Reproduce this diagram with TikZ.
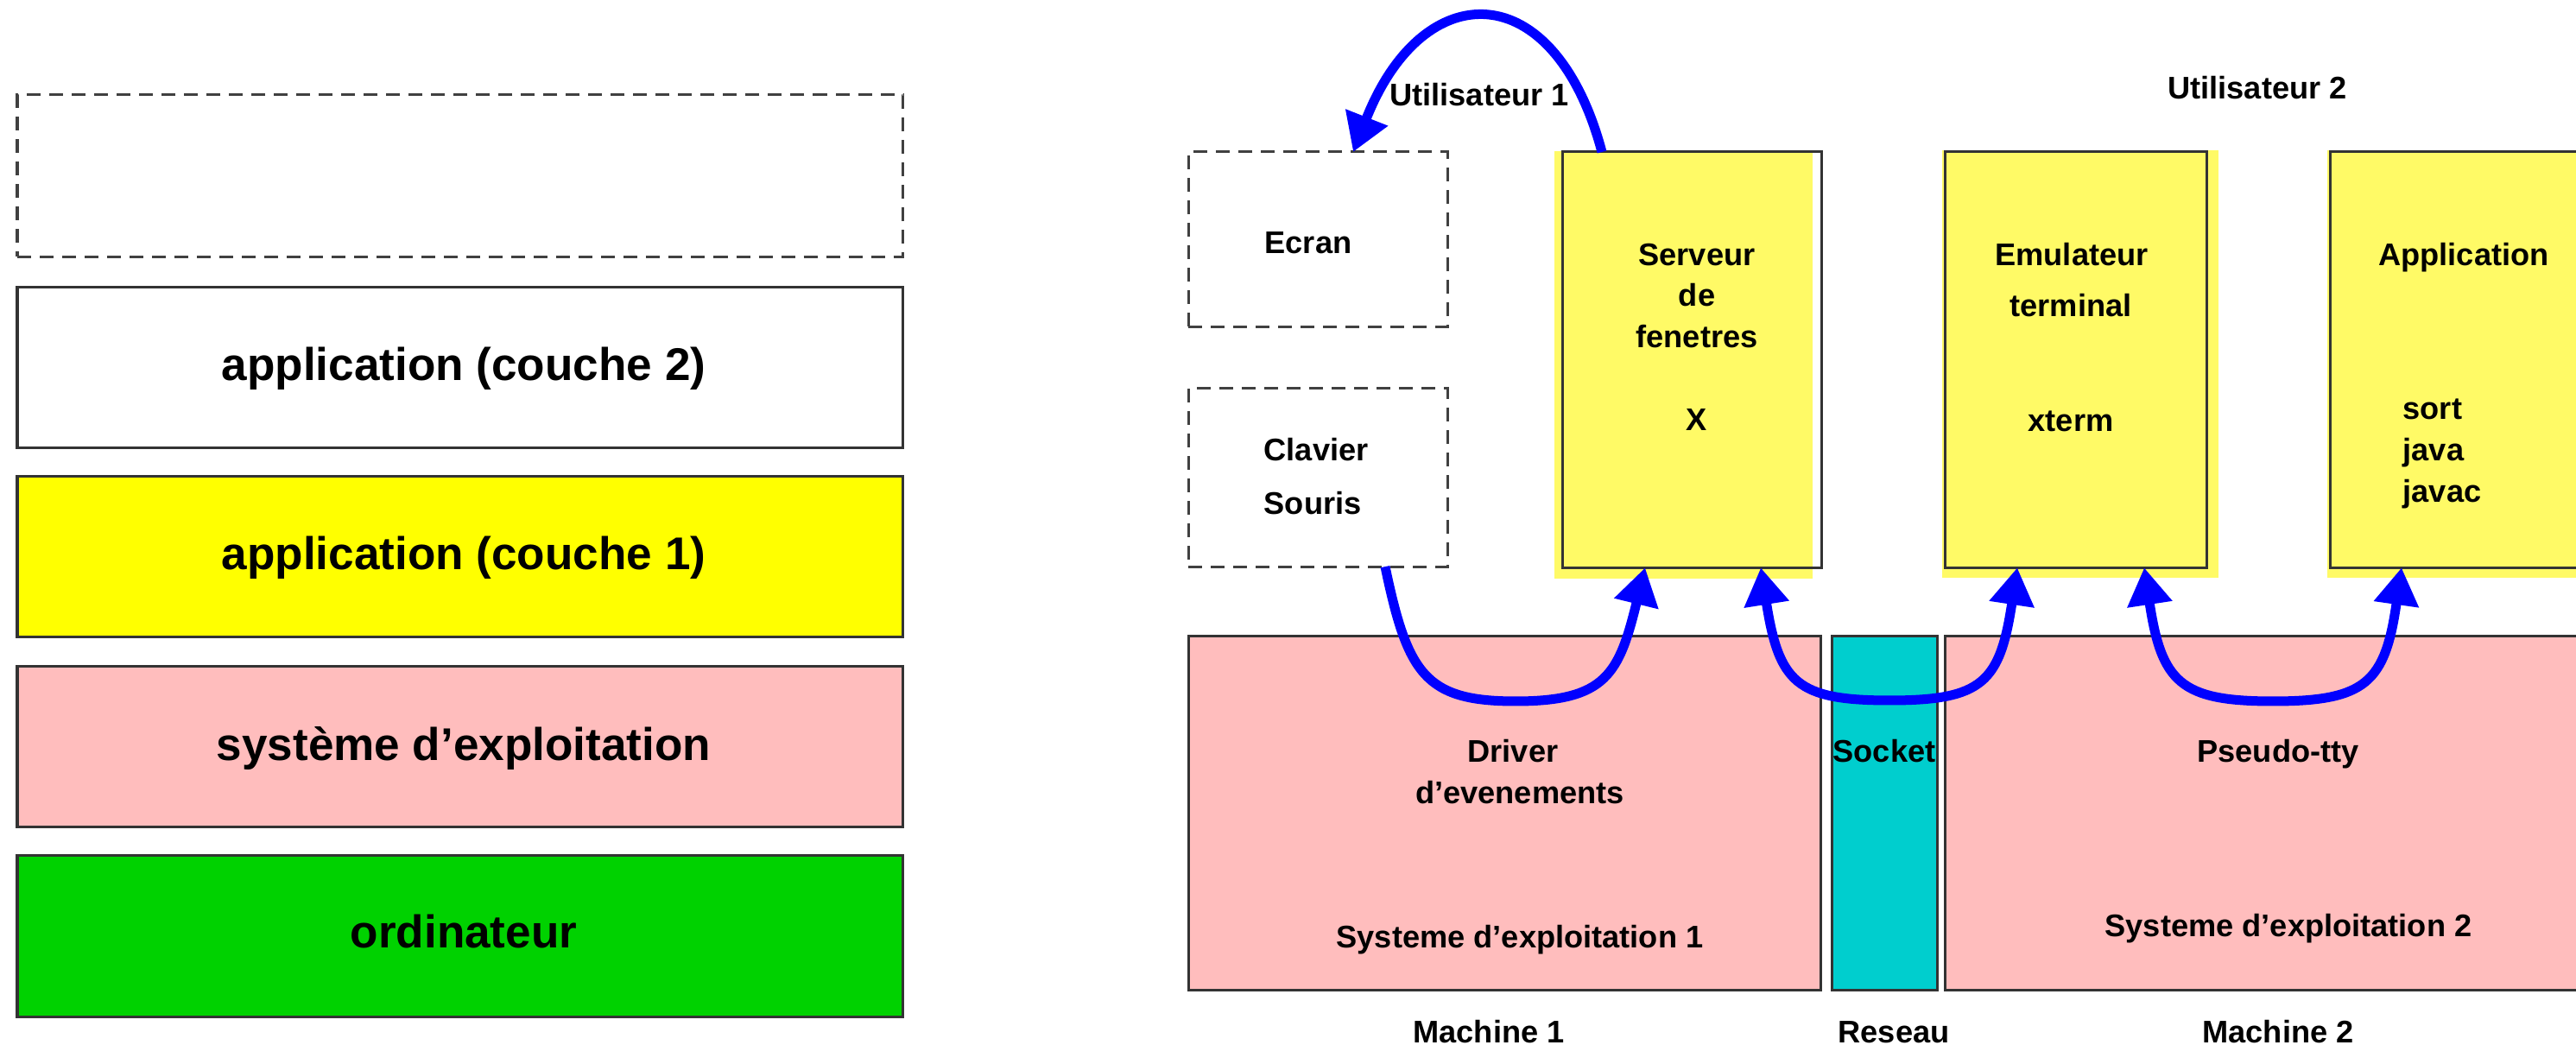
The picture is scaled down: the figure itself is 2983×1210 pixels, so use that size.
\documentclass[tikz,border=0pt]{standalone}
\usepackage{fontspec}
\setmainfont{Liberation Sans}
\usetikzlibrary{arrows.meta,calc}

\definecolor{appyellow}{RGB}{255,255,0}
\definecolor{paleyellow}{RGB}{255,250,102}
\definecolor{ospink}{RGB}{255,189,189}
\definecolor{hwgreen}{RGB}{0,210,0}
\definecolor{netcyan}{RGB}{0,206,206}
\definecolor{linkblue}{RGB}{0,0,255}

\begin{document}
\begin{tikzpicture}[x=0.01cm, y=-0.01cm,
  frame/.style={draw=black!80, line width=0.03cm, inner sep=0pt, outer sep=0pt, anchor=north west},
  dashedframe/.style={frame, draw=black!75, dash pattern=on 0.16cm off 0.10cm},
  layer/.style={frame, minimum width=10.25cm, minimum height=1.85cm},
  appfill/.style={fill=paleyellow, inner sep=0pt, outer sep=0pt, anchor=north west},
  bigtext/.style={font=\fontsize{15.1pt}{18pt}\selectfont\bfseries, inner sep=0pt, anchor=base},
  txt/.style={font=\fontsize{10.3pt}{12pt}\selectfont\bfseries, inner sep=0pt, anchor=base},
  ltxt/.style={txt, anchor=base west},
  link/.style={draw=linkblue, line width=0.11cm, line join=round},
  tip/.style={-{Triangle[length=0.43cm,width=0.5cm]}},
  twotips/.style={{Triangle[length=0.43cm,width=0.5cm]}-{Triangle[length=0.43cm,width=0.5cm]}}
]
\useasboundingbox (0,0) rectangle (2983,1210);
\clip (0,0) rectangle (2983,1210);

% ---- layered view of a computer ----
\node[layer, dashedframe, minimum width=10.25cm, minimum height=1.87cm] (couche3) at (20,110) {};
\node[layer] (couche2) at (20,333) {};
\node[layer, fill=appyellow] (couche1) at (20,552) {};
\node[layer, fill=ospink] (systeme) at (20,772) {};
\node[layer, fill=hwgreen, minimum height=1.86cm] (ordinateur) at (20,991) {};

\node[bigtext] (tc2) at (537,441) {application (couche 2)};
\node[bigtext] (tc1) at (537,660) {application (couche 1)};
\node[bigtext] (tos) at (537,881) {système d’exploitation};
\node[bigtext] (thw) at (537,1098) {ordinateur};

% ---- two machines linked by the network ----
% yellow backgrounds of the user processes
\node[appfill, minimum width=2.99cm, minimum height=4.95cm] (serveurfond) at (1800,175) {};
\node[appfill, minimum width=3.20cm, minimum height=4.95cm] (emulfond) at (2249,174) {};
\node[appfill, minimum width=3.20cm, minimum height=4.95cm] (applifond) at (2695,174) {};

% process frames
\node[frame, minimum width=3.00cm, minimum height=4.81cm] (serveur) at (1809,176) {};
\node[frame, minimum width=3.03cm, minimum height=4.81cm] (emulateur) at (2252,176) {};
\node[frame, minimum width=3.20cm, minimum height=4.81cm] (application) at (2698,176) {};

% peripherals
\node[dashedframe, minimum width=3.00cm, minimum height=2.02cm] (ecran) at (1376,176) {};
\node[dashedframe, minimum width=3.00cm, minimum height=2.06cm] (clavier) at (1376,450) {};

% operating systems and network
\node[frame, fill=ospink, minimum width=7.32cm, minimum height=4.09cm] (os1) at (1376,737) {};
\node[frame, fill=netcyan, minimum width=1.22cm, minimum height=4.09cm] (socket) at (2121,737) {};
\node[frame, fill=ospink, minimum width=7.60cm, minimum height=4.09cm] (os2) at (2252,737) {};

% texts
\node[txt] (u1) at (1713,123) {Utilisateur 1};
\node[txt] (u2) at (2614,115) {Utilisateur 2};

\node[txt] (tecran) at (1515,294) {Ecran};
\node[ltxt] (tclavier) at (1463,534) {Clavier};
\node[ltxt] (tsouris) at (1463,596) {Souris};

\node[txt] (ts1) at (1965,308) {Serveur};
\node[txt] (ts2) at (1965,355) {de};
\node[txt] (ts3) at (1965,403) {fenetres};
\node[txt] (ts4) at (1965,499) {X};

\node[txt] (te1) at (2399,308) {Emulateur};
\node[txt] (te2) at (2398,367) {terminal};
\node[txt] (te3) at (2398,500) {xterm};

\node[txt] (ta1) at (2853,308) {Application};
\node[ltxt] (ta2) at (2782,486) {sort};
\node[ltxt] (ta3) at (2782,534) {java};
\node[ltxt] (ta4) at (2782,582) {javac};

\node[txt] (td1) at (1752,883) {Driver};
\node[txt] (td2) at (1760,931) {d’evenements};
\node[txt] (tso1) at (1760,1098) {Systeme d’exploitation 1};
\node[txt] (tsock) at (2182,883) {Socket};
\node[txt] (tpty) at (2638,883) {Pseudo-tty};
\node[txt] (tso2) at (2650,1085) {Systeme d’exploitation 2};

\node[txt] (m1) at (1724,1208) {Machine 1};
\node[txt] (res) at (2193,1208) {Reseau};
\node[txt] (m2) at (2638,1208) {Machine 2};

% ---- data flows ----
\draw[link, tip] ($(serveur.north west)+(46,0)$)
  .. controls (1800,-30) and (1648,-30) .. ($(ecran.north west)+(191,0)$);
\draw[link, tip] ($(clavier.south west)+(228,0)$)
  .. controls (1630,780) and (1650,812) .. (1755,812)
  .. controls (1860,812) and (1875,780) .. ($(serveur.south west)+(96,0)$);
\draw[link, twotips] ($(serveur.south west)+(230,0)$)
  .. controls (2060,790) and (2080,811) .. (2188,811)
  .. controls (2296,811) and (2316,790) .. ($(emulateur.south west)+(84,0)$);
\draw[link, twotips] ($(emulateur.south west)+(231,0)$)
  .. controls (2503,790) and (2525,812) .. (2632,812)
  .. controls (2740,812) and (2762,790) .. ($(application.south west)+(83,0)$);
\end{tikzpicture}
\end{document}
